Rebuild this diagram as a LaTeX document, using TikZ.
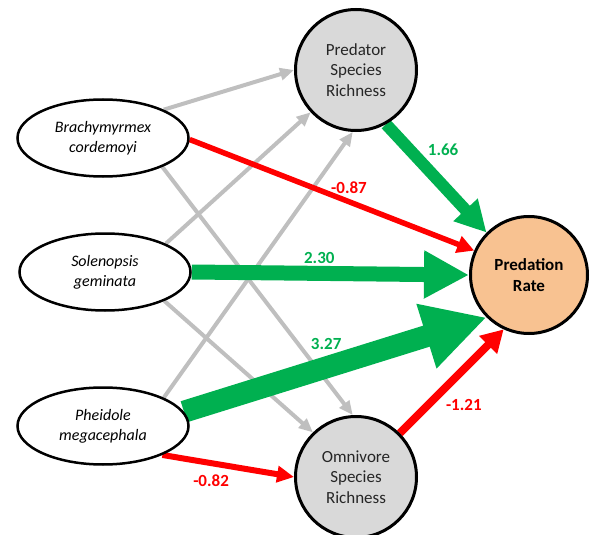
\documentclass[tikz,border=0pt]{standalone}
\usepackage{fontspec}
\setmainfont{Carlito}
\usepackage{tikz}
\usetikzlibrary{arrows.meta,shapes.geometric,backgrounds}
\definecolor{edgeGreen}{HTML}{00B050}
\definecolor{edgeRed}{HTML}{FF0000}
\definecolor{edgeGray}{HTML}{BFBFBF}
\definecolor{nodeGray}{HTML}{D9D9D9}
\definecolor{ratePeach}{HTML}{F8C291}
\tikzstyle{antVertex}=[draw,ellipse,line width=2.5pt,fill=white,minimum width=171pt,minimum height=77pt,inner sep=0pt,align=center,font=\fontsize{16}{20}\selectfont\itshape]
\tikzstyle{grayVertex}=[draw,circle,line width=3pt,fill=nodeGray,minimum size=121pt,inner sep=0pt,align=center,text=black!85]
\tikzstyle{rateVertex}=[draw,circle,line width=3pt,fill=ratePeach,minimum size=117pt,inner sep=0pt,align=center,font=\bfseries]
\tikzstyle{grayEdge}=[draw=edgeGray,line width=4pt,-{Triangle[length=14pt,width=12pt]}]
\tikzstyle{redLabel}=[text=edgeRed,font=\bfseries]
\tikzstyle{greenLabel}=[text=edgeGreen,font=\bfseries]

\begin{document}
\fontsize{17}{20.7}\selectfont
\begin{tikzpicture}[x=1pt,y=-1pt]
      \useasboundingbox (0,0) rectangle (590,535);
      % ant species
      \node [antVertex] (brachy) at (103,138) {Brachymyrmex\\cordemoyi};
      \node [antVertex] (solen) at (105,272) {Solenopsis\\geminata};
      \node [antVertex] (pheid) at (103,426) {Pheidole\\megacephala};
      % richness and predation
      \node [grayVertex] (pred) at (356,70) {Predator\\Species\\Richness};
      \node [grayVertex] (omni) at (356,477) {Omnivore\\Species\\Richness};
      \node [rateVertex] (rate) at (529,275) {Predation\\Rate};

      \begin{scope}[on background layer]
        \draw [grayEdge] (brachy.25) -- (pred.180);
        \draw [grayEdge] (brachy.-26) -- (omni.93);
        \draw [grayEdge] (solen.25) -- (pred.223);
        \draw [grayEdge] (solen.-26) -- (omni.134);
        \draw [grayEdge] (pheid.25) -- (pred.267);

        \draw [edgeRed,line width=5.5pt,-{Triangle[length=17pt,width=17pt]}]
          (brachy.-1) -- (rate.156) node [redLabel,pos=0.56,above=0pt] {-0.87};
        \draw [edgeRed,line width=6pt,-{Triangle[length=17pt,width=16pt]}]
          (pheid.-26) -- (omni.180) node [redLabel,pos=0.37,below=3pt] {-0.82};
        \draw [edgeRed,line width=8pt,-{Triangle[length=22pt,width=24pt]}]
          (omni.45) -- (rate.245) node [redLabel,pos=0.4,below right=-2pt,xshift=-3pt] {-1.21};

        \draw [edgeGreen,line width=12pt,-{Triangle[length=31pt,width=31pt]}]
          (pred.-61) -- (rate.135) node [greenLabel,pos=0.4,above right=0pt,xshift=-10pt] {1.66};
        \draw [edgeGreen,line width=15pt,-{Triangle[length=45pt,width=45pt]}]
          (solen.east) -- (rate.180) node [greenLabel,pos=0.46,above=-3pt] {2.30};
        \draw [edgeGreen,line width=22pt,-{Triangle[length=63pt,width=63pt]}]
          (pheid.10) -- (rate.225) node [greenLabel,pos=0.47,above=1pt] {3.27};
      \end{scope}
    \end{tikzpicture}
\end{document}
